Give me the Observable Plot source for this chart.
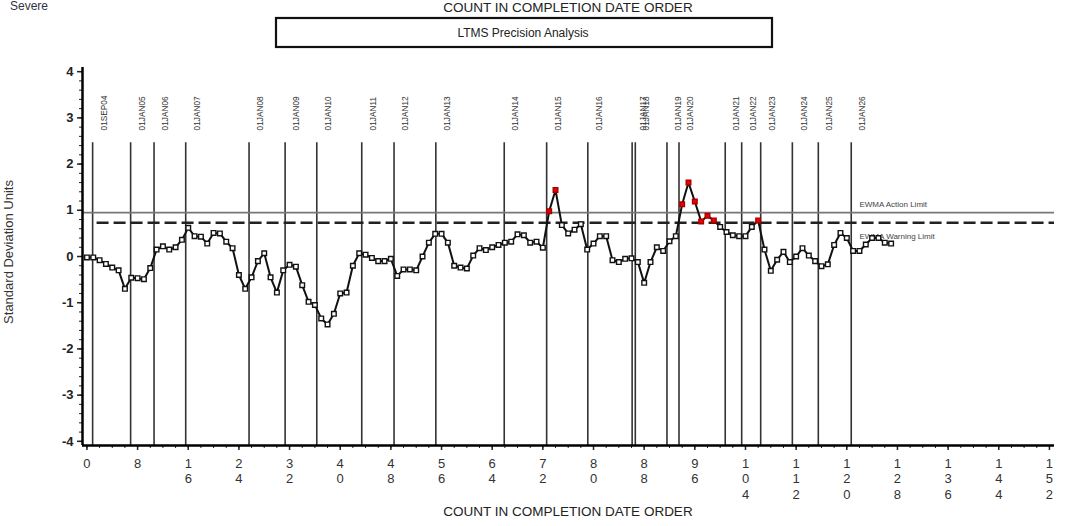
<!DOCTYPE html>
<html><head><meta charset="utf-8">
<script src="https://cdn.jsdelivr.net/npm/d3@7"></script>
<script src="https://cdn.jsdelivr.net/npm/@observablehq/plot@0.6"></script>
<style>
html,body{margin:0;padding:0;background:#fff;}
#chart{position:relative;width:1076px;height:526px;overflow:hidden;}
svg{font-family:"Liberation Sans",Arial,sans-serif;}
</style></head><body><div id="chart"></div>
<script>
// EWMA values in standard deviation units, one per test in completion order
const sdu = [
  -0.02,-0.02,-0.08,-0.16,-0.24,-0.30,-0.70,-0.46,-0.47,-0.49,
  -0.25,0.15,0.22,0.15,0.20,0.36,0.62,0.44,0.43,0.28,
  0.51,0.50,0.32,0.18,-0.40,-0.70,-0.45,-0.10,0.07,-0.45,
  -0.78,-0.30,-0.18,-0.22,-0.62,-0.98,-1.05,-1.34,-1.47,-1.24,
  -0.80,-0.78,-0.20,0.07,0.04,-0.03,-0.10,-0.10,-0.05,-0.42,
  -0.28,-0.28,-0.30,0.00,0.30,0.49,0.49,0.30,-0.20,-0.24,
  -0.26,0.02,0.18,0.14,0.20,0.25,0.30,0.32,0.48,0.46,
  0.30,0.32,0.19,0.98,1.44,0.68,0.50,0.58,0.70,0.15,
  0.28,0.44,0.44,-0.08,-0.12,-0.05,-0.04,-0.12,-0.57,-0.12,
  0.20,0.12,0.33,0.44,1.13,1.60,1.19,0.76,0.88,0.78,
  0.64,0.53,0.46,0.44,0.44,0.64,0.78,0.15,-0.31,-0.07,
  0.10,-0.12,0.00,0.18,0.02,-0.10,-0.21,-0.17,0.25,0.51,
  0.40,0.12,0.12,0.26,0.40,0.40,0.30,0.28
];
const dateLabels = ["01SEP04","01JAN05","01JAN06","01JAN07","01JAN08","01JAN09","01JAN10","01JAN11","01JAN12","01JAN13","01JAN14","01JAN15","01JAN16","01JAN17","01JAN18","01JAN19","01JAN20","01JAN21","01JAN22","01JAN23","01JAN24","01JAN25","01JAN26"];
const dateCounts = [0.9,6.9,10.6,15.6,25.6,31.3,36.3,43.4,48.5,55.1,65.9,72.6,79.1,86.1,86.6,91.6,93.5,100.8,103.4,106.4,111.4,115.5,120.7];
const xTicks = [0,8,16,24,32,40,48,56,64,72,80,88,96,104,112,120,128,136,144,152];
const yTicks = [-4,-3,-2,-1,0,1,2,3,4];
const actionLimit = 0.95;
const warningLimit = 0.73;

const xMin = -0.7, xMax = 152.8, yMin = -4.09, yMax = 4.09;
const data = sdu.map((v, i) => ({count: i, sdu: v}));
const inLimit = data.filter(d => d.sdu <= warningLimit);
const outLimit = data.filter(d => d.sdu > warningLimit);
const xMinor = d3.range(0, 153, 2);
const yMinor = d3.range(-40, 41, 2).map(d => d / 10);

const plot = Plot.plot({
  width: 1076, height: 526,
  marginLeft: 82, marginRight: 22, marginTop: 67, marginBottom: 81,
  style: {fontFamily: '"Liberation Sans", Arial, sans-serif', background: "#fff", color: "#222"},
  x: {domain: [xMin, xMax], axis: null, label: null},
  y: {domain: [yMin, yMax], axis: null, label: null},
  marks: [
    Plot.ruleX(dateCounts, {x: d => d, y1: yMin, y2: 2.46, stroke: "#333", strokeWidth: 1.6}),
    Plot.text(dateLabels, {x: (d, i) => dateCounts[i], y: 2.727, text: d => d, rotate: -90, textAnchor: "start", dx: 11.5, fontSize: 8.3, fill: "#333"}),
    Plot.ruleY([actionLimit], {x1: xMin, x2: xMax, stroke: "#777", strokeWidth: 1.6}),
    Plot.ruleY([warningLimit], {x1: 1.6, x2: xMax, stroke: "#222", strokeWidth: 2.6, strokeDasharray: "12,5"}),
    Plot.text(["EWMA Action Limit"], {x: 122, y: actionLimit, dy: -8.5, text: d => d, textAnchor: "start", fontSize: 8, fill: "#444"}),
    Plot.text(["EWMA Warning Limit"], {x: 122, y: warningLimit, dy: 13.5, text: d => d, textAnchor: "start", fontSize: 8, fill: "#444"}),
    Plot.line(data, {x: "count", y: "sdu", stroke: "#111", strokeWidth: 2}),
    Plot.dot(inLimit, {x: "count", y: "sdu", symbol: "square", r: 2.6, fill: "#fff", stroke: "#111", strokeWidth: 1.4}),
    Plot.dot(outLimit, {x: "count", y: "sdu", symbol: "square", r: 2.6, fill: "#e00", stroke: "#a00", strokeWidth: 1.4}),
    Plot.axisY(yMinor, {anchor: "left", tickSize: 3, tickFormat: () => "", strokeWidth: 1, label: null}),
    Plot.axisY(yTicks, {anchor: "left", tickSize: 5, tickPadding: 4, tickFormat: d => String(d), fontSize: 13, fontWeight: "bold", strokeWidth: 1.5, label: null}),
    Plot.axisX(xMinor, {anchor: "bottom", tickSize: 3, tickFormat: () => "", strokeWidth: 1, label: null}),
    Plot.axisX(xTicks, {anchor: "bottom", tickSize: 5, tickFormat: () => "", strokeWidth: 1.5, label: null}),
    Plot.text(xTicks, {x: d => d, text: d => String(d).split("").join("\n"), frameAnchor: "bottom", lineAnchor: "top", dy: 11, lineHeight: 1.2, fontSize: 13, fill: "#333"}),
    Plot.ruleX([xMin], {y1: yMin, y2: yMax, stroke: "#000", strokeWidth: 2.5}),
    Plot.ruleY([yMin], {x1: xMin, x2: xMax, stroke: "#000", strokeWidth: 2.5})
  ]
});

const svg = d3.select(plot);
svg.append("text").attr("x", 10).attr("y", 10).attr("text-anchor", "start").attr("font-size", 12).attr("fill", "#334").text("Severe");
svg.append("text").attr("x", 568).attr("y", 12).attr("text-anchor", "middle").attr("font-size", 13.5).attr("fill", "#222").text("COUNT IN COMPLETION DATE ORDER");
svg.append("rect").attr("x", 276).attr("y", 18).attr("width", 496).attr("height", 29).attr("fill", "none").attr("stroke", "#111").attr("stroke-width", 2.2);
svg.append("text").attr("x", 523).attr("y", 36.5).attr("text-anchor", "middle").attr("font-size", 12).attr("fill", "#222").text("LTMS Precision Analysis");
svg.append("text").attr("transform", "translate(13,252) rotate(-90)").attr("text-anchor", "middle").attr("font-size", 13).attr("fill", "#333").text("Standard Deviation Units");
svg.append("text").attr("x", 568).attr("y", 516).attr("text-anchor", "middle").attr("font-size", 13.5).attr("fill", "#222").text("COUNT IN COMPLETION DATE ORDER");

document.getElementById("chart").appendChild(plot);
</script>
</body></html>
